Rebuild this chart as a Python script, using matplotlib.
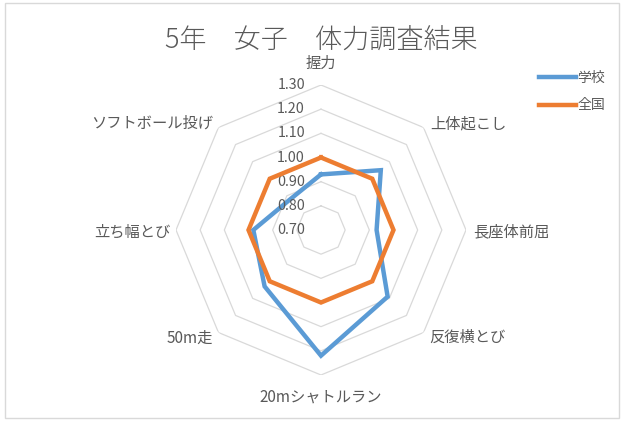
import numpy as np
import matplotlib
matplotlib.use("Agg")
import matplotlib.pyplot as plt
from matplotlib.patches import Rectangle

plt.rcParams['font.family'] = ['Noto Sans CJK JP', 'DejaVu Sans']

categories = ['握力', '上体起こし', '長座体前屈', '反復横とび',
              '20mシャトルラン', '50m走', '立ち幅とび', 'ソフトボール投げ']
school = [0.93, 1.05, 0.93, 1.09, 1.22, 1.03, 0.98, 0.88]
national = [1.00, 1.00, 1.00, 1.00, 1.00, 1.00, 1.00, 1.00]
ring_ticks = [0.70, 0.80, 0.90, 1.00, 1.10, 1.20, 1.30]

gray_text = '#595959'
grid_col = '#D9D9D9'

fig = plt.figure(figsize=(6.25, 4.25), dpi=100)

# chart area border
fig.patches.append(Rectangle((5 / 625, 7 / 425), 614 / 625, 415 / 425,
                             transform=fig.transFigure, fill=False,
                             edgecolor=grid_col, linewidth=1))

cx, cy, R = 321 / 625, 1 - 230 / 425, 145
ax = fig.add_axes([cx - R / 625, cy - R / 425, 2 * R / 625, 2 * R / 425],
                  projection='polar')
ax.set_theta_zero_location('N')
ax.set_theta_direction(-1)
ax.set_rlim(0.7, 1.3)
ax.grid(False)
ax.set_xticks([])
ax.set_yticks([])
ax.spines['polar'].set_visible(False)
ax.patch.set_visible(False)

n = len(categories)
theta = np.linspace(0, 2 * np.pi, n, endpoint=False)
theta_c = np.append(theta, theta[0])

# octagon rings
for r in ring_ticks[1:]:
    ax.plot(theta_c, [r] * (n + 1), color=grid_col, lw=0.9, zorder=1)

ax.plot(theta_c, school + school[:1], color='#5B9BD5', lw=3.2,
        solid_joinstyle='miter', label='学校', zorder=3)
ax.plot(theta_c, national + national[:1], color='#ED7D31', lw=3.2,
        solid_joinstyle='miter', label='全国', zorder=4)

# radial tick labels
for r in ring_ticks:
    ax.annotate(f'{r:.2f}', xy=(0, r), xytext=(-16, 0), textcoords='offset pixels',
                ha='right', va='center', fontsize=10.3, color=gray_text)

# category labels
offsets = [(0, 22, 'center'), (7, 3, 'left'), (7, -2, 'left'), (6, -5, 'left'),
           (0, -22, 'center'), (-6, -6, 'right'), (-6, -2, 'right'), (-5, 4, 'right')]
for t, lab, (dx, dy, ha) in zip(theta, categories, offsets):
    ax.annotate(lab, xy=(t, 1.3), xytext=(dx, dy), textcoords='offset pixels',
                ha=ha, va='center', fontsize=11, color=gray_text)

fig.text(cx, 1 - 40 / 425, '5年　女子　体力調査結果', ha='center', va='center',
         fontsize=19.5, color=gray_text, fontweight='light')

fig.legend(loc='upper left', bbox_to_anchor=(526 / 625, 1 - 58 / 425),
           frameon=False, fontsize=10, handlelength=2.7, handletextpad=0.1,
           labelspacing=1.0, labelcolor=gray_text)

fig.savefig('out.png', dpi=100)
